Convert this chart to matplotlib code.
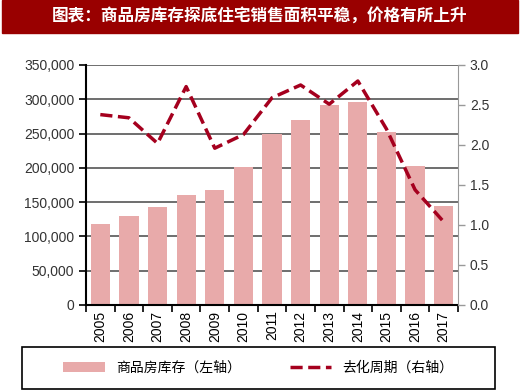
import matplotlib.pyplot as plt
import numpy as np
from matplotlib.patches import Rectangle

plt.rcParams['font.family'] = ['Liberation Sans', 'Noto Sans CJK SC', 'DejaVu Sans']

years = ['2005', '2006', '2007', '2008', '2009', '2010', '2011',
         '2012', '2013', '2014', '2015', '2016', '2017']
inventory = [118000, 130000, 143000, 161000, 168000, 201000, 249000,
             270000, 291000, 296000, 253000, 202000, 144000]
cycle = [2.38, 2.34, 2.02, 2.73, 1.96, 2.13, 2.59,
         2.75, 2.51, 2.80, 2.20, 1.44, 1.04]

title = '图表：商品房库存探底住宅销售面积平稳，价格有所上升'
bar_label = '商品房库存（左轴）'
line_label = '去化周期（右轴）'

bar_color = '#E8AAAA'
line_color = '#A5001E'

fig = plt.figure(figsize=(5.2, 3.91), dpi=100)

# title banner
fig.patches.append(Rectangle((2 / 520, 1 - 33 / 391), 516 / 520, 33 / 391,
                             transform=fig.transFigure, color='#990000', zorder=0))
fig.text(0.5, 1 - 16.5 / 391, title, color='white', fontsize=12, fontweight='bold',
         ha='center', va='center', family=['Noto Sans CJK SC'])

ax = fig.add_axes([86 / 520, 1 - 305 / 391, 372 / 520, 240 / 391])
x = np.arange(len(years))
ax.bar(x, inventory, width=0.67, color=bar_color, zorder=2, label=bar_label)
ax.set_ylim(0, 350000)
ax.set_xlim(-0.5, len(years) - 0.5)
ax.set_yticks(np.arange(0, 350001, 50000))
ax.set_yticklabels(['{:,}'.format(v) for v in range(0, 350001, 50000)])
ax.yaxis.grid(True, color='#555555', lw=1.2, zorder=1)
ax.set_axisbelow(True)
ax.set_xticks(x)
ax.set_xticklabels(years, rotation=90)
ax.set_xticks(np.arange(-0.5, len(years)), minor=True)
ax.tick_params(axis='x', which='major', length=0, labelsize=10, pad=4)
ax.tick_params(axis='x', which='minor', length=5, width=1.2, color='black')
ax.tick_params(axis='y', length=5, width=1.2, labelsize=10, labelcolor='#333333')
for s in ['top', 'right']:
    ax.spines[s].set_visible(False)
ax.spines['left'].set_linewidth(1.5)
ax.spines['bottom'].set_linewidth(1.5)

ax2 = ax.twinx()
ax2.plot(x, cycle, color=line_color, lw=2.5, ls=(0, (3.5, 1.6)), label=line_label)
ax2.set_ylim(0, 3.0)
ax2.set_yticks(np.arange(0, 3.01, 0.5))
ax2.set_yticklabels(['{:.1f}'.format(v) for v in np.arange(0, 3.01, 0.5)])
ax2.tick_params(axis='y', length=5, width=1, color='#999999', labelsize=10,
                labelcolor='#333333')
for s in ['top', 'left', 'bottom']:
    ax2.spines[s].set_visible(False)
ax2.spines['right'].set_color('#999999')

# legend frame
fig.patches.append(Rectangle((22 / 520, 1 - 389 / 391), 473 / 520, 42 / 391,
                             transform=fig.transFigure, fill=False,
                             edgecolor='black', lw=1.2))
h1, l1 = ax.get_legend_handles_labels()
h2, l2 = ax2.get_legend_handles_labels()
fig.legend(h1 + h2, l1 + l2, loc='center', ncol=2,
           bbox_to_anchor=(258.5 / 520, 1 - 368 / 391), frameon=False,
           prop={'family': ['Noto Sans CJK SC'], 'size': 10},
           handlelength=3, columnspacing=3.5)

fig.savefig('out.png', dpi=100)
